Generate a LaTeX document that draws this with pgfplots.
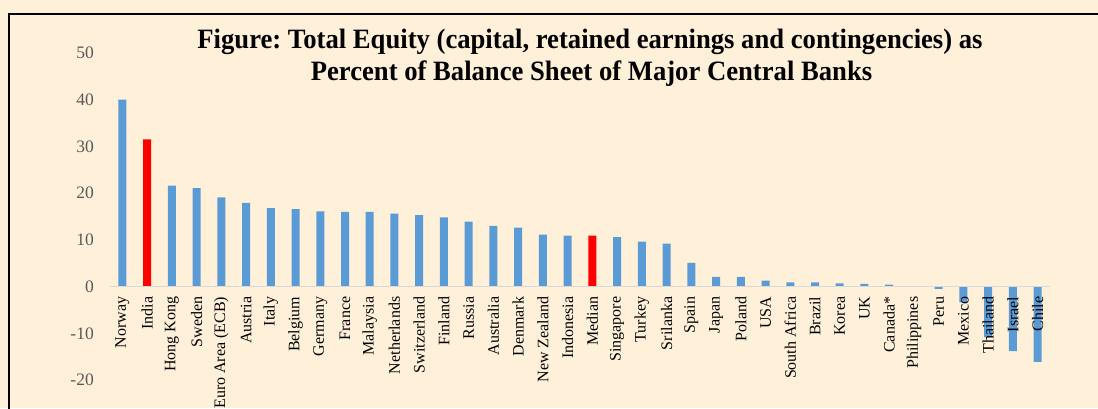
\documentclass[border=0pt]{standalone}
\usepackage{fontspec}
\setmainfont{Liberation Serif}
\newfontfamily\titlefont[FakeStretch=0.952]{Liberation Serif}
\usepackage{pgfplots}
\pgfplotsset{compat=1.18}
\definecolor{bg}{HTML}{FFF0D9}
\definecolor{barblue}{HTML}{5B9BD5}
\definecolor{ygray}{HTML}{595959}
\frenchspacing
\begin{document}
\begin{tikzpicture}[x=1pt,y=1pt]
\useasboundingbox (0,0) rectangle (1098,408);
\fill[bg] (0,0) rectangle (1098,408);
\draw[line width=2pt] (9,-5) -- (9,394) -- (1110,394);
\begin{axis}[
  at={(110pt,28pt)}, anchor=south west,
  scale only axis, width=940pt, height=327pt,
  xmin=-0.5, xmax=37.5, ymin=-20, ymax=50,
  axis on top,
  axis x line=middle, axis y line=left,
  x axis line style={draw=black!15, line width=1.5pt, -},
  y axis line style={draw=none},
  hide obscured y ticks=false, hide obscured x ticks=false,
  major tick length=0pt,
  xtick={0,...,37},
  xticklabels={Norway,India,Hong Kong,Sweden,Euro Area (ECB),Austria,Italy,Belgium,Germany,France,Malaysia,Netherlands,Switzerland,Finland,Russia,Australia,Denmark,New Zealand,Indonesia,Median,Singapore,Turkey,Srilanka,Spain,Japan,Poland,USA,South Africa,Brazil,Korea,UK,Canada*,Philippines,Peru,Mexico,Thailand,Israel,Chile},
  xticklabel style={rotate=90, anchor=east, font=\fontsize{16}{16}\selectfont, inner sep=0pt, xshift=-10pt},
  ytick={-20,-10,0,10,20,30,40,50},
  yticklabels={-20,-10,0,10,20,30,40,50},
  yticklabel style={font=\fontsize{17.5}{17.5}\selectfont, text=ygray, inner sep=0pt, xshift=-16pt},
  clip=false,
]
\addplot[ybar, bar width=8pt, bar shift=0pt, fill=barblue, draw=none] coordinates {
(0,40.0) (2,21.6) (3,21.1) (4,19.1) (5,17.9) (6,16.8) (7,16.6) (8,16.1) (9,16.0)
(10,16.0) (11,15.6) (12,15.3) (13,14.8) (14,13.9) (15,13.0) (16,12.6) (17,11.1)
(18,10.9) (20,10.6) (21,9.6) (22,9.2) (23,5.1) (24,2.1) (25,2.1) (26,1.3) (27,0.9)
(28,0.9) (29,0.7) (30,0.6) (31,0.4) (32,0.0) (33,-0.5) (34,-3.4) (35,-10.9)
(36,-13.8) (37,-16.1)};
\addplot[ybar, bar width=8pt, bar shift=0pt, fill=red, draw=none] coordinates {(1,31.5) (19,10.9)};
\end{axis}
\node[font=\titlefont\bfseries\fontsize{28}{32}\selectfont, anchor=base, inner sep=0pt] at (590,359) {Figure: Total Equity (capital, retained earnings and contingencies) as};
\node[font=\titlefont\bfseries\fontsize{28}{32}\selectfont, anchor=base, inner sep=0pt] at (591.5,327) {Percent of Balance Sheet of Major Central Banks};
\end{tikzpicture}
\end{document}
